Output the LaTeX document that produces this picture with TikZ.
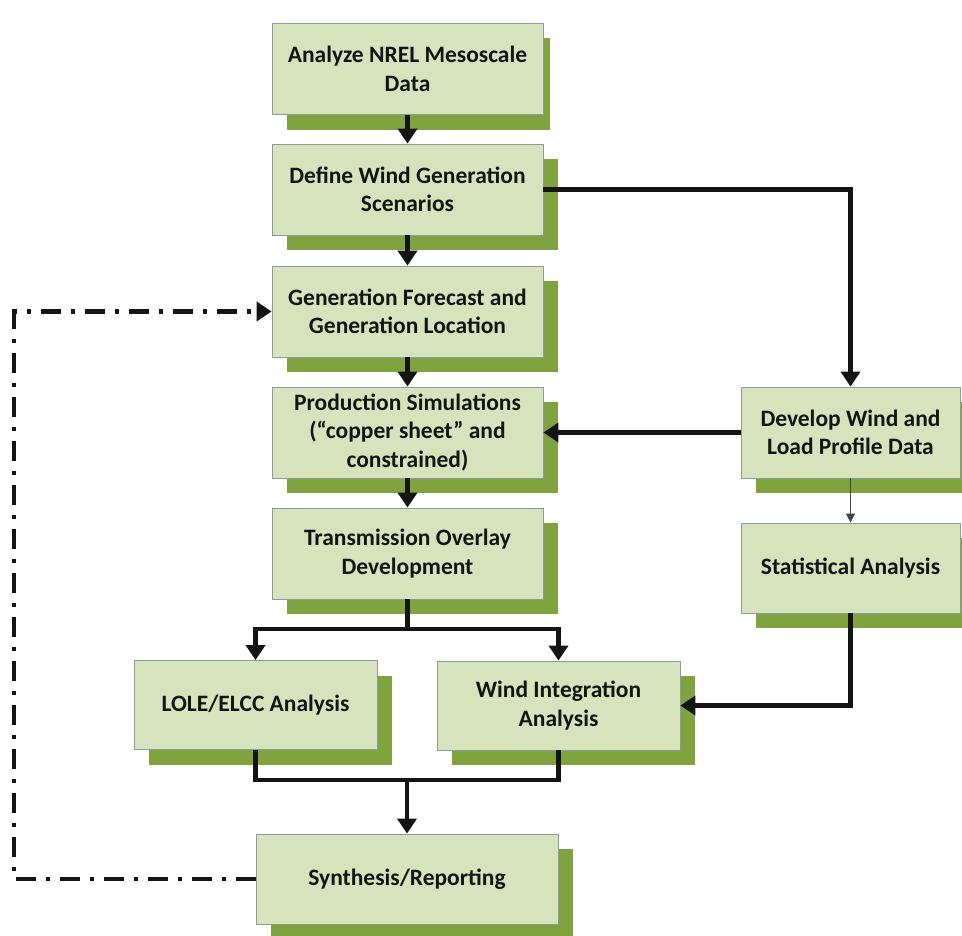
\documentclass[tikz,border=0pt]{standalone}
\usepackage{fontspec}
\setmainfont{Carlito}
\usetikzlibrary{arrows.meta,shadows,calc}
\definecolor{boxfill}{HTML}{D6E3BC}
\definecolor{shadowgreen}{HTML}{7FA33E}
\definecolor{boxline}{HTML}{8C9C9C}
\definecolor{ink}{HTML}{141414}
\begin{document}
\begin{tikzpicture}[x=1pt,y=-1pt,
  boxbase/.style={draw=boxline, line width=0.8pt, fill=boxfill, inner sep=0pt,
    align=center, text=ink, font=\bfseries\fontsize{23.5}{28.5}\selectfont},
  mainbox/.style={boxbase, minimum width=271pt, minimum height=91pt},
  withshadow/.style={drop shadow={shadow xshift=15pt, shadow yshift=-15pt,
    fill=shadowgreen, opacity=1, draw=none}},
  conn/.style={draw=ink, line width=4.2pt, line join=miter, -{Triangle[width=19pt,length=15pt]}},
  plainline/.style={draw=ink, line width=4.2pt, line join=miter},
  thinconn/.style={draw=ink!80, line width=0.8pt, -{Triangle[width=9pt,length=9pt]}},
  dashdot/.style={draw=ink, line width=4.2pt, line join=miter,
    dash pattern=on 20pt off 10pt on 4pt off 10pt, -{Triangle[width=19pt,length=15pt]}}
]
\useasboundingbox (0,0) rectangle (962,936);
\fill[white] (0,0) rectangle (962,936);

% shadow of the first box (narrower than the others)
\fill[shadowgreen] (287,38) rectangle (550,130);
\node[mainbox] (n1) at (407.5,69) {Analyze NREL Mesoscale\\Data};
\node[mainbox, withshadow] (n2) at (407.5,189.5) {Define Wind Generation\\Scenarios};
\node[mainbox, withshadow] (n3) at (407.5,311.5) {Generation Forecast and\\Generation Location};
\node[mainbox, withshadow] (n4) at (407.5,432.5) {Production Simulations\\(“copper sheet” and\\constrained)};
\node[mainbox, withshadow] (n5) at (407.5,553.5) {Transmission Overlay\\Development};
\node[boxbase, withshadow, minimum width=243pt, minimum height=89pt] (lole) at (255.5,705) {LOLE/ELCC Analysis};
\node[boxbase, withshadow, minimum width=243pt, minimum height=89pt] (wind) at (558.5,705.5) {Wind Integration\\Analysis};
\node[boxbase, withshadow, minimum width=302pt, minimum height=90pt] (synth) at (407,879) {Synthesis/Reporting};
\node[boxbase, withshadow, minimum width=219pt, minimum height=91pt] (dev) at (850.5,432.5) {Develop Wind and\\Load Profile Data};
\node[boxbase, withshadow, minimum width=219pt, minimum height=90pt] (stat) at (850.5,568) {Statistical Analysis};

% main chain
\draw[conn] (n1) -- (n2);
\draw[conn] (n2) -- (n3);
\draw[conn] (n3) -- (n4);
\draw[conn] (n4) -- (n5);

% right branch
\draw[conn] (n2.east) -| (dev.north);
\draw[conn] (dev.west) -- (n4.east);
\draw[thinconn] (dev) -- (stat);
\draw[conn] (stat.south) |- (wind.east);

% split below transmission
\coordinate (br) at ($(n5.south)+(0,29.5)$);
\draw[plainline] (n5.south) -- (br);
\draw[conn] (br) -| (lole.north);
\draw[conn] (br) -| (wind.north);

% merge above synthesis
\coordinate (mg) at ($(synth.north)+(0,-54)$);
\draw[plainline] (lole.south) |- (mg) -| (wind.south);
\draw[conn] (mg) -- (synth.north);

% feedback loop
\coordinate (fb) at (14,0);
\draw[dashdot] (synth.west) -| (fb |- n3.west) -- (n3.west);
\end{tikzpicture}
\end{document}
